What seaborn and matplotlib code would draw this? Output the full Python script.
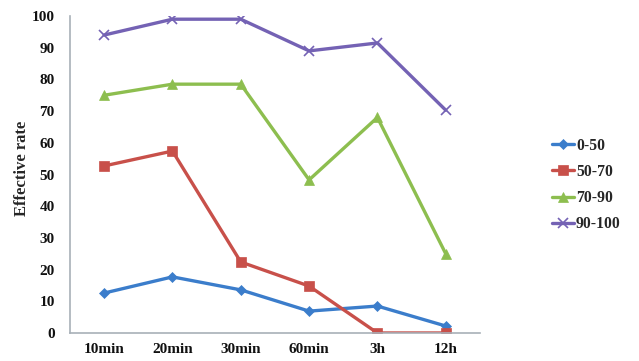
import matplotlib
matplotlib.use("Agg")
import matplotlib.pyplot as plt
import seaborn as sns
import pandas as pd

# Sampling times and effective rate (%) per range group
times = ["10min", "20min", "30min", "60min", "3h", "12h"]
g_0_50 = [12.6, 17.7, 13.6, 6.9, 8.5, 2.2]
g_50_70 = [52.7, 57.4, 22.4, 14.8, 0, 0]
g_70_90 = [75.0, 78.5, 78.5, 48.3, 68.0, 25.0]
g_90_100 = [94.0, 99.0, 99.0, 89.0, 91.5, 70.3]
groups = ["0-50", "50-70", "70-90", "90-100"]

series = [g_0_50, g_50_70, g_70_90, g_90_100]
rows = []
for name, vals in zip(groups, series):
    for i, (t, v) in enumerate(zip(times, vals)):
        rows.append({"pos": i, "time": t, "group": name, "rate": v})
df = pd.DataFrame(rows)

sns.set_theme(style="white")
plt.rcParams["font.family"] = ["Liberation Serif", "DejaVu Serif"]
plt.rcParams["font.weight"] = "bold"

colors = {"0-50": "#3B7DCB", "50-70": "#C8504A", "70-90": "#8DBE4F", "90-100": "#7462B4"}
markers = {"0-50": "D", "50-70": "s", "70-90": "^", "90-100": "x"}
msizes = {"0-50": 5.5, "50-70": 7, "70-90": 7, "90-100": 7}

fig = plt.figure(figsize=(6.39, 3.61), dpi=100)
ax = fig.add_axes([0.1095, 0.0776, 0.6415, 0.878])

for name in groups:
    sub = df[df["group"] == name]
    sns.lineplot(data=sub, x="pos", y="rate", color=colors[name],
                 marker=markers[name], markersize=msizes[name],
                 markeredgewidth=1.2 if name == "90-100" else 0.5,
                 markeredgecolor=colors[name],
                 linewidth=2.4, label=name, ax=ax)

ax.set_xlim(-0.5, 5.5)
ax.set_ylim(0, 100)
ax.set_xticks(range(len(times)))
ax.set_xticklabels(times)
ax.set_yticks(range(0, 101, 10))
ax.tick_params(axis="both", length=0, labelsize=11, colors="#111111")
ax.tick_params(axis="x", pad=7)
ax.tick_params(axis="y", pad=11)
for lbl in ax.get_xticklabels() + ax.get_yticklabels():
    lbl.set_fontweight("bold")
ax.set_xlabel("")
ax.set_ylabel("Effective rate", fontsize=12, fontweight="bold")
ax.yaxis.set_label_coords(-0.098, 0.52)

for side in ["top", "right"]:
    ax.spines[side].set_visible(False)
for side in ["left", "bottom"]:
    ax.spines[side].set_color("#A8B0B8")
    ax.spines[side].set_linewidth(1.2)

handles, labels = ax.get_legend_handles_labels()
ax.legend(handles, labels, loc="center left", bbox_to_anchor=(1.16, 0.467),
          frameon=False, handlelength=1.4, handletextpad=0.15,
          labelspacing=0.65, borderaxespad=0,
          prop={"weight": "bold", "size": 11.3})

fig.savefig("out.png", dpi=100)
